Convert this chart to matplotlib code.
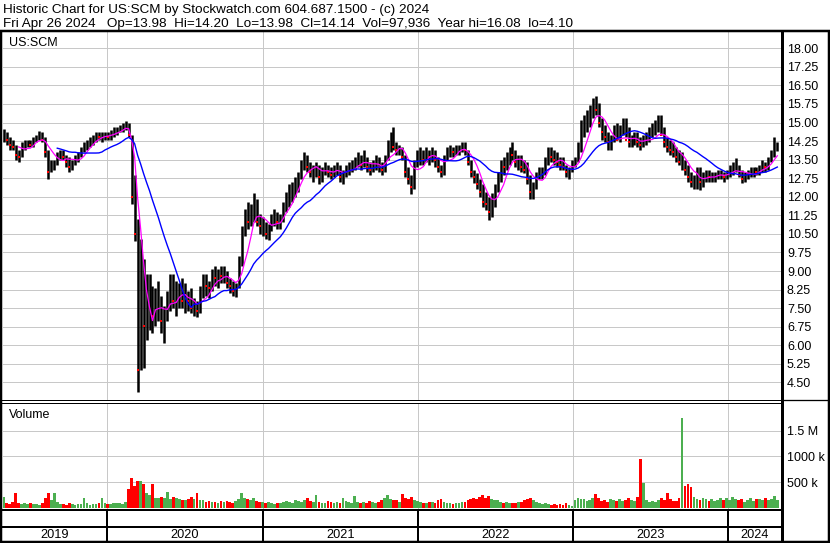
import numpy as np
import pandas as pd
import matplotlib
matplotlib.use("Agg")
import matplotlib.pyplot as plt
from matplotlib.lines import Line2D

plt.rcParams['font.family'] = ['Liberation Sans', 'DejaVu Sans']

# ---------------------------------------------------------------- data
symbol = "US:SCM"
week_end = pd.date_range("2019-05-03", periods=261, freq="7D")

week_high = [
    14.75, 14.6, 14.4, 14.3, 14.1, 13.9, 14.2, 14.3, 14.3, 14.3,
    14.4, 14.5, 14.65, 14.6, 14.4, 13.9, 13.5, 13.5, 13.8, 13.9,
    13.9, 13.7, 13.6, 13.5, 13.7, 13.8, 14.0, 14.2, 14.3, 14.4,
    14.5, 14.6, 14.6, 14.6, 14.6, 14.6, 14.7, 14.8, 14.8, 14.9,
    15.0, 15.05, 15.0, 14.5, 12.9, 11.1, 10.3, 9.5, 8.9, 8.9,
    8.4, 8.3, 8.6, 8.0, 7.6, 8.2, 8.9, 8.9, 8.6, 8.5,
    8.7, 8.5, 8.2, 8.3, 7.9, 7.8, 8.4, 8.9, 8.9, 8.6,
    9.1, 9.2, 9.1, 9.2, 9.2, 9.0, 8.7, 8.6, 8.5, 9.6,
    10.8, 11.5, 11.8, 11.7, 12.15, 11.9, 11.3, 11.2, 11.0, 10.9,
    11.3, 11.5, 11.4, 11.3, 11.8, 12.2, 12.5, 12.6, 12.8, 13.0,
    13.5, 13.8, 13.7, 13.4, 13.3, 13.4, 13.3, 13.2, 13.4, 13.3,
    13.2, 13.3, 13.4, 13.3, 13.1, 13.3, 13.4, 13.5, 13.6, 13.8,
    13.7, 13.9, 13.6, 13.4, 13.5, 13.7, 13.6, 13.4, 13.7, 14.3,
    14.6, 14.8, 14.2, 14.1, 14.0, 13.7, 13.2, 12.9, 13.5, 13.9,
    14.0, 13.9, 14.0, 13.9, 14.0, 13.9, 13.6, 13.3, 13.7, 14.0,
    14.1, 14.0, 14.1, 14.1, 14.2, 14.2, 13.9, 13.5, 13.1, 12.95,
    12.7, 12.5, 12.2, 12.0, 12.15, 12.5, 13.0, 13.5, 13.6, 13.8,
    14.0, 14.2, 13.9, 13.7, 13.7, 13.5, 13.4, 12.9, 12.6, 13.0,
    13.2, 13.2, 13.6, 14.0, 14.0, 13.9, 13.8, 13.6, 13.6, 13.3,
    13.2, 13.5, 13.6, 14.2, 15.1, 15.3, 15.5, 15.7, 16.0, 16.08,
    15.8, 15.2, 14.9, 14.6, 14.5, 14.9, 15.0, 14.9, 15.2, 15.2,
    14.8, 14.5, 14.6, 14.6, 14.4, 14.5, 14.6, 14.8, 15.0, 15.1,
    15.3, 15.3, 14.8, 14.4, 14.3, 14.2, 14.0, 13.9, 13.8, 13.5,
    13.3, 13.0, 12.9, 13.2, 13.2, 13.0, 13.1, 13.1, 13.0, 13.0,
    13.1, 13.1, 13.0, 13.1, 13.3, 13.4, 13.57, 13.3, 13.1, 13.0,
    13.1, 13.2, 13.2, 13.2, 13.3, 13.5, 13.4, 13.6, 13.9, 14.43, 14.2,
]

week_low = [
    14.2, 14.1, 13.9, 13.9, 13.5, 13.4, 13.6, 13.9, 14.0, 14.0,
    14.0, 14.2, 14.3, 14.2, 13.6, 12.7, 13.0, 13.1, 13.3, 13.5,
    13.5, 13.2, 13.0, 13.1, 13.3, 13.4, 13.6, 13.8, 13.9, 14.0,
    14.1, 14.2, 14.3, 14.2, 14.3, 14.3, 14.3, 14.4, 14.5, 14.6,
    14.6, 14.7, 14.4, 11.7, 10.2, 4.1, 5.0, 5.1, 6.2, 6.6,
    6.5, 6.8, 7.0, 6.5, 6.1, 7.0, 7.4, 7.5, 7.2, 7.5,
    7.5, 7.3, 7.4, 7.3, 7.2, 7.15, 7.3, 7.9, 8.0, 7.9,
    8.2, 8.4, 8.3, 8.5, 8.5, 8.3, 8.1, 8.0, 7.95, 8.3,
    9.2, 10.4, 10.7, 10.8, 11.0, 10.8, 10.5, 10.4, 10.3, 10.26,
    10.6, 10.8, 10.7, 10.7, 11.0, 11.4, 11.6, 11.8, 12.0, 12.2,
    12.7, 13.1, 13.0, 12.8, 12.6, 12.8, 12.5, 12.6, 12.9, 12.8,
    12.7, 12.8, 12.9, 12.6, 12.5, 12.8, 12.9, 13.0, 13.1, 13.2,
    13.1, 13.2, 13.0, 12.9, 13.0, 13.1, 13.0, 12.9, 13.0, 13.5,
    13.8, 13.9, 13.7, 13.7, 13.5, 12.8, 12.5, 12.1, 12.3, 13.2,
    13.3, 13.3, 13.4, 13.3, 13.4, 13.2, 13.0, 12.8, 12.9, 13.5,
    13.6, 13.6, 13.7, 13.7, 13.8, 13.7, 13.3, 12.8, 12.55, 12.3,
    12.0, 11.6, 11.45, 11.05, 11.2, 11.6, 12.2, 12.6, 12.9, 13.1,
    13.3, 13.5, 13.2, 13.1, 13.0, 12.95, 12.5, 11.9, 11.9, 12.3,
    12.7, 12.7, 12.9, 13.3, 13.4, 13.3, 13.2, 13.1, 13.1, 12.8,
    12.7, 13.0, 13.2, 13.4, 13.8, 14.4, 14.6, 14.8, 15.2, 15.3,
    14.8, 14.3, 14.2, 13.9, 13.9, 14.2, 14.3, 14.2, 14.5, 14.4,
    14.0, 14.0, 14.1, 14.0, 13.9, 14.0, 14.1, 14.2, 14.4, 14.5,
    14.6, 14.5, 14.0, 13.8, 13.7, 13.6, 13.4, 13.3, 13.1, 12.9,
    12.6, 12.4, 12.3, 12.3, 12.27, 12.4, 12.6, 12.6, 12.6, 12.6,
    12.7, 12.7, 12.6, 12.7, 12.8, 12.9, 13.0, 12.8, 12.55, 12.6,
    12.7, 12.8, 12.8, 12.9, 12.9, 13.0, 13.0, 13.1, 13.4, 13.6, 13.85,
]

week_close = [
    14.4, 14.3, 14.1, 14.0, 13.7, 13.6, 14.1, 14.1, 14.2, 14.1,
    14.3, 14.4, 14.5, 14.3, 13.8, 13.0, 13.3, 13.4, 13.7, 13.8,
    13.6, 13.4, 13.2, 13.4, 13.6, 13.7, 13.9, 14.1, 14.2, 14.3,
    14.4, 14.5, 14.4, 14.5, 14.5, 14.4, 14.6, 14.7, 14.7, 14.8,
    14.9, 14.9, 14.5, 12.0, 10.5, 5.0, 7.5, 6.8, 7.5, 8.0,
    7.2, 7.6, 7.8, 7.0, 7.2, 7.9, 8.5, 7.8, 8.0, 8.2,
    7.8, 8.0, 7.8, 7.5, 7.5, 7.4, 8.1, 8.5, 8.4, 8.3,
    8.8, 8.7, 8.9, 8.8, 9.0, 8.5, 8.4, 8.2, 8.3, 9.4,
    10.6, 11.3, 11.0, 11.4, 11.8, 11.0, 10.8, 11.0, 10.5, 10.7,
    11.1, 11.2, 11.0, 11.2, 11.6, 12.0, 12.2, 12.4, 12.6, 12.8,
    13.3, 13.5, 13.2, 13.0, 13.1, 13.2, 12.8, 13.0, 13.2, 13.0,
    12.9, 13.1, 13.2, 12.8, 12.9, 13.1, 13.2, 13.3, 13.4, 13.5,
    13.3, 13.6, 13.2, 13.1, 13.3, 13.5, 13.2, 13.1, 13.6, 14.1,
    14.2, 14.0, 13.9, 13.9, 13.6, 13.0, 12.7, 12.4, 13.3, 13.6,
    13.8, 13.5, 13.8, 13.6, 13.7, 13.5, 13.2, 13.0, 13.5, 13.8,
    13.9, 13.8, 13.9, 14.0, 14.0, 13.9, 13.4, 13.0, 12.8, 12.5,
    12.2, 11.8, 11.7, 11.4, 11.9, 12.3, 12.8, 13.3, 13.2, 13.6,
    13.8, 13.7, 13.4, 13.4, 13.2, 13.1, 12.7, 12.2, 12.4, 12.8,
    12.9, 13.0, 13.4, 13.7, 13.6, 13.5, 13.4, 13.3, 13.2, 13.0,
    13.1, 13.3, 13.4, 14.0, 14.6, 14.9, 15.2, 15.5, 15.6, 15.5,
    15.0, 14.6, 14.4, 14.2, 14.3, 14.4, 14.3, 14.4, 14.6, 14.3,
    14.2, 14.3, 14.4, 14.2, 14.1, 14.3, 14.4, 14.4, 14.5, 14.6,
    14.8, 14.5, 14.2, 14.0, 13.9, 13.8, 13.6, 13.4, 13.6, 13.1,
    12.8, 12.6, 12.7, 12.9, 12.6, 12.8, 12.9, 12.8, 12.8, 12.9,
    12.9, 13.0, 12.8, 12.9, 13.1, 13.2, 13.3, 12.9, 12.7, 12.8,
    12.9, 13.0, 13.1, 13.0, 13.2, 13.3, 13.2, 13.5, 13.8, 14.0, 14.14,
]

# weekly volume, thousands of shares
week_volume_k = [
    210, 90, 70, 110, 300, 90, 80, 100, 70, 90,
    80, 70, 60, 100, 190, 300, 160, 290, 120, 80,
    70, 60, 90, 80, 60, 70, 80, 190, 90, 60,
    70, 80, 100, 200, 90, 80, 70, 90, 100, 90,
    80, 110, 360, 590, 430, 520, 530, 460, 300, 250,
    470, 200, 190, 220, 200, 310, 180, 220, 200, 180,
    160, 150, 170, 210, 180, 300, 160, 150, 120, 130,
    110, 120, 100, 130, 110, 140, 120, 100, 130, 170,
    290, 200, 170, 150, 190, 130, 120, 110, 100, 120,
    90, 80, 100, 90, 110, 140, 120, 100, 150, 130,
    120, 150, 200, 130, 110, 260, 120, 100, 90, 140,
    110, 100, 120, 90, 200, 130, 110, 100, 240, 120,
    90, 110, 100, 130, 120, 90, 110, 150, 200, 250,
    180, 160, 150, 120, 280, 200, 180, 220, 150, 130,
    110, 100, 90, 120, 110, 100, 160, 180, 120, 100,
    90, 80, 100, 90, 110, 120, 150, 170, 200, 180,
    220, 250, 200, 230, 180, 150, 160, 120, 100, 110,
    90, 100, 90, 120, 110, 150, 180, 200, 160, 120,
    100, 80, 90, 70, 60, 80, 60, 70, 50, 90,
    60, 40, 150, 200, 180, 170, 130, 160, 190, 270,
    200, 130, 160, 120, 170, 150, 140, 180, 130, 160,
    200, 150, 130, 220, 950, 490, 150, 120, 140, 110,
    150, 200, 160, 290, 180, 140, 130, 200, 1740, 430,
    470, 400, 220, 180, 150, 200, 170, 130, 180, 140,
    160, 200, 150, 190, 160, 210, 180, 150, 170, 120,
    160, 200, 140, 180, 170, 150, 200, 160, 180, 230, 150,
]

price_ticks = [4.50, 5.25, 6.00, 6.75, 7.50, 8.25, 9.00, 9.75, 10.50, 11.25,
               12.00, 12.75, 13.50, 14.25, 15.00, 15.75, 16.50, 17.25, 18.00]
volume_ticks = [500_000, 1_000_000, 1_500_000]
volume_tick_labels = ["500 k", "1000 k", "1.5 M"]
years = [2019, 2020, 2021, 2022, 2023, 2024]

last_day = "Fri Apr 26 2024"
last_open, last_high, last_low, last_close, last_vol = 13.98, 14.20, 13.98, 14.14, 97936

# ---------------------------------------------------------------- figure
W, H = 830, 543
fig = plt.figure(figsize=(W / 100, H / 100), dpi=100)
PT = 0.72  # points per pixel at 100 dpi


def box(x0, y0, x1, y1):
    """Axes placed by pixel box, origin top-left."""
    return fig.add_axes([x0 / W, 1 - y1 / H, (x1 - x0) / W, (y1 - y0) / H])


def seg(x0, y0, x1, y1, lw_px, color="black"):
    fig.add_artist(Line2D([x0 / W, x1 / W], [1 - y0 / H, 1 - y1 / H],
                          transform=fig.transFigure, color=color,
                          lw=lw_px * PT, solid_capstyle="butt"))


# date -> pixel scale of the time axis
t0 = pd.Timestamp("2020-01-01")
px_per_day = (728 - 107) / 1461.0
x_left = t0 + pd.Timedelta(days=(3 - 107) / px_per_day)
x_right = t0 + pd.Timedelta(days=(781 - 107) / px_per_day)
year_starts = [pd.Timestamp(f"{y}-01-01") for y in years[1:]]

hi = np.array(week_high)
lo = np.array(week_low)
cl = pd.Series(week_close, index=week_end)
vol = np.array(week_volume_k) * 1000.0
up = np.r_[True, np.diff(cl.values) >= 0]

grid_kw = dict(color="#c8c8c8", lw=1 * PT, zorder=0)

# price panel
def price_at(py):
    return 18.0 - (py - 48.3) / 24.75

ax = box(3, 32, 781, 400)
ax.set_xlim(x_left, x_right)
ax.set_ylim(price_at(400), price_at(32))
for v in price_ticks:
    ax.axhline(v, **grid_kw)
for d in year_starts:
    ax.axvline(d, **grid_kw)
ax.vlines(week_end, lo, hi, color="black", lw=1.8, zorder=2)
ax.plot(week_end[~up], cl.values[~up], "s", color="#ff0000", ms=1.8, mew=0, zorder=3)
ax.plot(week_end, cl.rolling(6).mean(), color="#ff00ff", lw=0.9, zorder=4)
ax.plot(week_end, cl.rolling(19).mean(), color="#0000ff", lw=1.0, zorder=4)
ax.set_yticks(price_ticks)
ax.set_yticklabels([f"{v:.2f}" for v in price_ticks])
ax.set_xticks([])
ax.yaxis.tick_right()
ax.tick_params(axis="y", length=0, pad=4.3, labelsize=9)
for s in ax.spines.values():
    s.set_visible(False)
ax.text(6 / 778, 1 - 14 / 368, symbol, transform=ax.transAxes,
        fontsize=9, va="baseline", ha="left")

# volume panel
def vol_at(py):
    return (508 - py) / 25.8 * 500_000

axv = box(3, 403, 781, 509)
axv.set_xlim(x_left, x_right)
axv.set_ylim(vol_at(509), vol_at(403))
for v in volume_ticks:
    axv.axhline(v, **grid_kw)
for d in year_starts:
    axv.axvline(d, **grid_kw)
axv.bar(week_end, vol, width=6.4, color=np.where(up, "#4caf50", "#ff0000"),
        linewidth=0, zorder=2)
axv.set_yticks(volume_ticks)
axv.set_yticklabels(volume_tick_labels)
axv.set_xticks([])
axv.yaxis.tick_right()
axv.tick_params(axis="y", length=0, pad=4.3, labelsize=9)
for s in axv.spines.values():
    s.set_visible(False)
axv.text(6 / 778, 1 - 14.5 / 106, "Volume", transform=axv.transAxes,
         fontsize=9, va="baseline", ha="left")

# year labels under the panels
axl = box(3, 527, 781, 541)
axl.set_xlim(x_left, x_right)
axl.set_ylim(0, 1)
axl.axis("off")
bounds = [x_left] + year_starts + [x_right]
for y, a, b in zip(years, bounds[:-1], bounds[1:]):
    axl.text(a + (b - a) / 2, 0.45, str(y), ha="center", va="center", fontsize=9.2)

# frame
seg(0, 30.8, W, 30.8, 2.5)
seg(1, 30, 1, H, 2.5)
seg(782, 30, 782, H, 3)
seg(828.7, 30, 828.7, H, 2.5)
seg(0, 400.3, 781, 400.3, 1)
seg(0, 402.6, 781, 402.6, 1)
seg(781, 400.2, W, 400.2, 1.3)
seg(0, 510, 781, 510, 2)
seg(0, 527, 781, 527, 2)
seg(0, 541.8, W, 541.8, 2.5)
for d in year_starts:
    xp = 107 + (d - t0).days * px_per_day
    seg(xp, 510, xp, 541, 2)

# header
fig.text(3 / W, 1 - 12.7 / H,
         f"Historic Chart for {symbol} by Stockwatch.com 604.687.1500 - (c) 2024",
         fontsize=9.7, va="baseline", ha="left")
fig.text(3 / W, 1 - 27.2 / H,
         f"{last_day}   Op={last_open:.2f}  Hi={last_high:.2f}  Lo={last_low:.2f}  "
         f"Cl={last_close:.2f}  Vol={last_vol:,}  Year hi={hi.max():.2f}  lo={lo.min():.2f}",
         fontsize=9.7, va="baseline", ha="left")

fig.savefig("out.png", dpi=100)
